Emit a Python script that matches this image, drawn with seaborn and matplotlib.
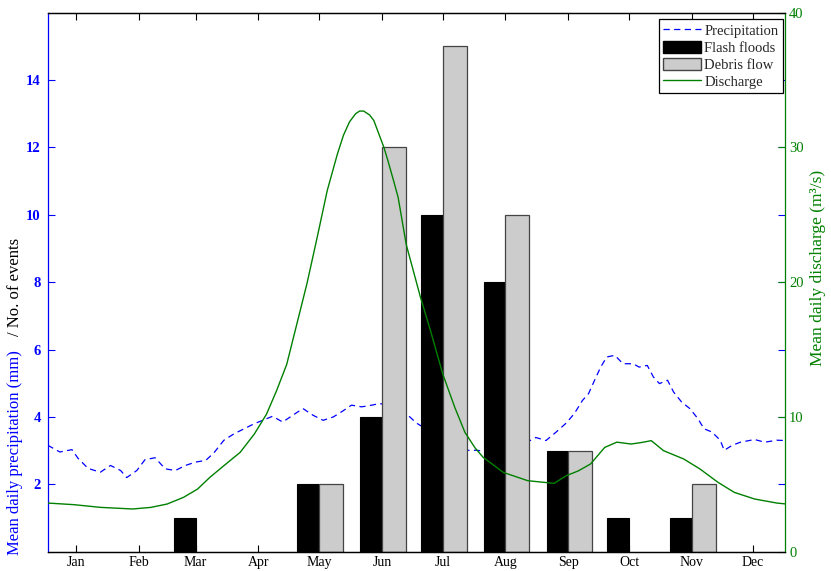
import numpy as np
import pandas as pd
import matplotlib
matplotlib.use("Agg")
import matplotlib.pyplot as plt
from matplotlib.lines import Line2D
from matplotlib.patches import Patch
import seaborn as sns

# --- data ---
months = ["Jan", "Feb", "Mar", "Apr", "May", "Jun",
          "Jul", "Aug", "Sep", "Oct", "Nov", "Dec"]
month_day = [15, 46, 74, 105, 135, 166, 196, 227, 258, 288, 319, 349]  # 15th of each month
flash_floods = [0, 0, 1, 0, 2, 4, 10, 8, 3, 1, 1, 0]
debris_flow = [0, 0, 0, 0, 2, 12, 15, 10, 3, 0, 2, 0]

precip_day = [1, 7, 13, 16, 21, 27, 32, 37, 40, 45, 49, 54, 59, 64, 69, 74, 79, 83,
              88, 93, 98, 103, 108, 112, 117, 122, 127, 132, 137, 142, 146, 151, 156,
              161, 165, 171, 178, 183, 189, 196, 202, 208, 213, 220, 228, 236, 242,
              247, 252, 257, 261, 265, 268, 271, 274, 277, 281, 285, 290, 293, 297,
              300, 303, 307, 310, 314, 318, 322, 325, 329, 333, 335, 339, 343, 350,
              355, 361, 365]
precip_mm = [3.16, 2.96, 3.03, 2.77, 2.47, 2.36, 2.56, 2.41, 2.20, 2.41, 2.73, 2.79,
             2.46, 2.41, 2.56, 2.66, 2.71, 2.93, 3.31, 3.50, 3.65, 3.80, 3.92, 4.02,
             3.85, 4.05, 4.25, 4.05, 3.90, 4.00, 4.15, 4.35, 4.30, 4.35, 4.40, 4.30,
             4.10, 3.82, 3.60, 3.40, 3.20, 3.01, 3.01, 2.95, 3.05, 3.20, 3.39, 3.30,
             3.55, 3.82, 4.10, 4.49, 4.69, 5.09, 5.48, 5.78, 5.83, 5.58, 5.58, 5.48,
             5.53, 5.19, 4.99, 5.09, 4.74, 4.44, 4.25, 3.95, 3.65, 3.55, 3.31, 3.01,
             3.16, 3.25, 3.33, 3.25, 3.31, 3.30]

discharge_day = [1, 14, 27, 43, 52, 60, 68, 75, 81, 89, 96, 103, 109, 114, 119, 124,
                 129, 134, 139, 144, 147, 150, 153, 155, 157, 160, 162, 164, 167, 169,
                 172, 174, 178, 185, 190, 196, 202, 207, 212, 216, 226, 238, 251, 257,
                 263, 269, 276, 282, 289, 294, 299, 305, 315, 323, 332, 340, 350, 361,
                 365]
discharge_m3s = [3.61, 3.49, 3.29, 3.17, 3.29, 3.54, 4.03, 4.65, 5.51, 6.51, 7.37, 8.73,
                 10.2, 11.95, 13.9, 16.9, 19.9, 23.3, 26.8, 29.5, 30.9, 31.9, 32.5, 32.7,
                 32.7, 32.4, 32.0, 31.2, 30.0, 29.0, 27.4, 26.3, 22.8, 18.9, 16.4, 13.2,
                 10.7, 8.85, 7.7, 7.0, 5.88, 5.27, 5.07, 5.64, 6.0, 6.51, 7.74, 8.13,
                 7.99, 8.1, 8.24, 7.50, 6.88, 6.14, 5.14, 4.40, 3.91, 3.61, 3.55]

sns.set_theme(style="white")
plt.rcParams["font.family"] = ["Liberation Serif", "DejaVu Serif"]

BLUE = "#0000ff"
GREEN = "#008000"
GREY = "#cccccc"

W, H = 831, 571
fig = plt.figure(figsize=(W / 100, H / 100), dpi=100)
L, R, T, B = 47.7, 785, 12.7, 551.7
ax = fig.add_axes([L / W, 1 - B / H, (R - L) / W, (B - T) / H])
ax2 = ax.twinx()

# precipitation sits behind the bars
precip = pd.DataFrame({"day": precip_day, "mm": precip_mm})
sns.lineplot(data=precip, x="day", y="mm", ax=ax, color=BLUE, lw=0.9, zorder=1)
ax.lines[-1].set_dashes((5, 3.5))

md = np.array(month_day)
ff = np.array(flash_floods)
dfl = np.array(debris_flow)
ax.bar(md[ff > 0], ff[ff > 0], width=-10.7, align="edge", color="black",
       edgecolor="black", lw=0.8, zorder=2)
ax.bar(md[dfl > 0], dfl[dfl > 0], width=11.8, align="edge", color=GREY,
       edgecolor="#444444", lw=0.9, zorder=2)

discharge = pd.DataFrame({"day": discharge_day, "q": discharge_m3s})
sns.lineplot(data=discharge, x="day", y="q", ax=ax2, color=GREEN, lw=1.0)

ax.set_xlim(1, 365)
ax.set_ylim(0, 16)
ax2.set_ylim(0, 40)
ax.set_xticks(month_day, months)
ax.set_yticks(range(2, 16, 2))
ax2.set_yticks(range(0, 41, 10))
for a in (ax, ax2):
    a.set_xlabel("")
    a.set_ylabel("")

ax.tick_params(axis="x", direction="in", top=True, bottom=True, length=5, width=0.8,
               colors="black", labelsize=10, pad=3)
ax.tick_params(axis="y", direction="in", left=True, right=True, labelright=False,
               length=5, width=0.8, colors=BLUE, labelsize=10.5, pad=5)
ax2.tick_params(axis="y", direction="in", left=False, right=True, length=5, width=0.8,
                colors=GREEN, labelsize=10.5, pad=3)
for lbl in ax.get_yticklabels():
    lbl.set_fontweight("bold")

for a in (ax, ax2):
    for s in a.spines.values():
        s.set_linewidth(0.9)
        s.set_color("black")
ax.spines["left"].set_color(BLUE)
ax.spines["right"].set_visible(False)
ax2.spines["left"].set_visible(False)
ax2.spines["right"].set_color(GREEN)

# two-colour left label: blue part then black part above it, with a small gap
blue_lbl = fig.text(15 / W, 1 - 555 / H, "Mean daily precipitation (mm)", rotation=90,
                    color=BLUE, fontsize=12, ha="center", va="bottom")
fig.canvas.draw()
top_px = blue_lbl.get_window_extent().y1
fig.text(15 / W, (top_px + 14) / H, "/ No. of events", rotation=90,
         color="black", fontsize=12, ha="center", va="bottom")
fig.text(818 / W, 1 - 268 / H, "Mean daily discharge (m³/s)", rotation=90,
         color=GREEN, fontsize=12.5, ha="center", va="center")

handles = [
    Line2D([], [], color=BLUE, lw=0.9, dashes=(5, 3.5)),
    Patch(facecolor="black", edgecolor="black"),
    Patch(facecolor=GREY, edgecolor="#444444"),
    Line2D([], [], color=GREEN, lw=1.0),
]
labels = ["Precipitation", "Flash floods", "Debris flow", "Discharge"]
leg = ax2.legend(handles, labels, loc="upper right",
                 bbox_to_anchor=(782.7 / W, 1 - 19.3 / H), bbox_transform=fig.transFigure,
                 borderaxespad=0, frameon=True, fancybox=False, framealpha=1,
                 edgecolor="black", fontsize=10.5, handlelength=2.6, handleheight=0.9,
                 handletextpad=0.2, labelspacing=0.2, borderpad=0.3)
leg.get_frame().set_linewidth(0.9)

fig.savefig("out.png", dpi=100)
